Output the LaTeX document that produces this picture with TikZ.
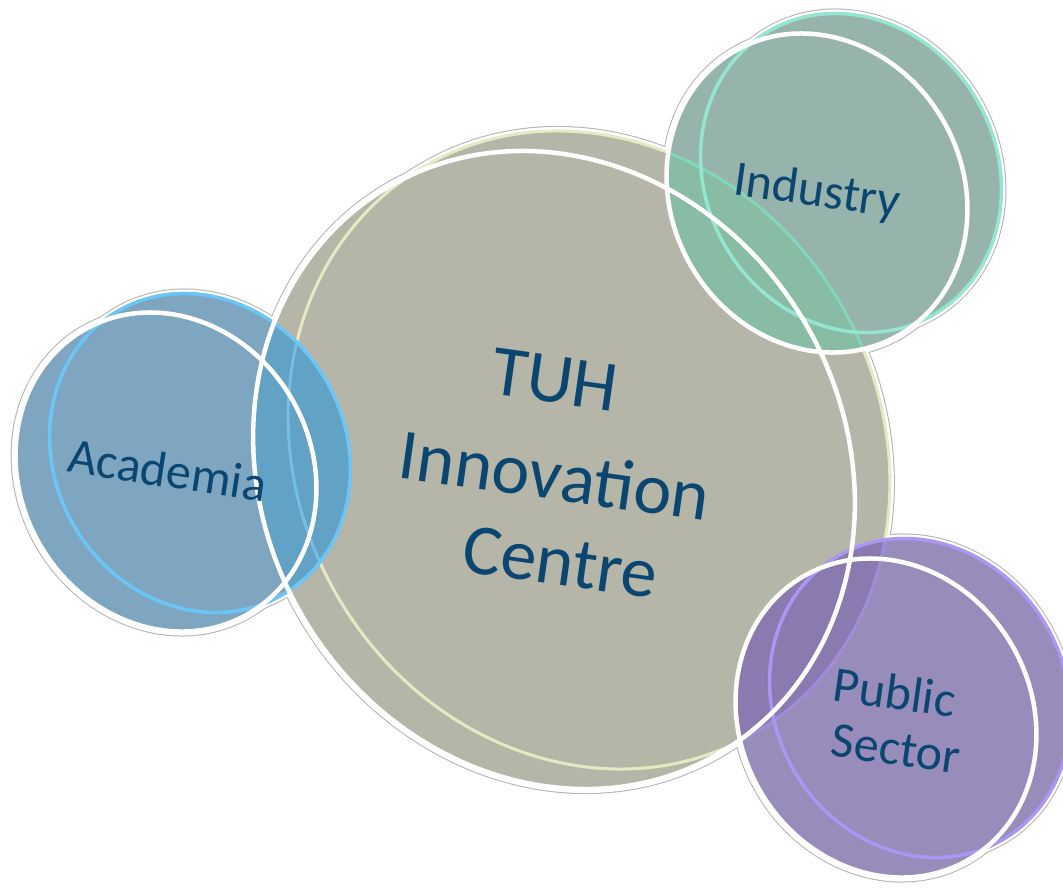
\documentclass[tikz,border=0pt]{standalone}
\usepackage{fontspec}
\setmainfont{Carlito}
\newcommand{\bigell}[1]{(#1) circle [x radius=328pt, y radius=291pt, rotate=-59.7]}
\newcommand{\smlell}[1]{(#1) circle [x radius=164pt, y radius=145.5pt, rotate=-59.7]}
\definecolor{cfill}{RGB}{182,182,168}
\definecolor{cline}{RGB}{230,234,196}
\definecolor{afill}{RGB}{126,166,192}
\definecolor{aover}{RGB}{98,162,196}
\definecolor{aline}{RGB}{108,198,245}
\definecolor{atint}{RGB}{118,190,228}
\definecolor{ifill}{RGB}{151,180,172}
\definecolor{iover}{RGB}{136,188,164}
\definecolor{iline}{RGB}{148,230,208}
\definecolor{itint}{RGB}{132,214,186}
\definecolor{pfill}{RGB}{152,140,186}
\definecolor{pover}{RGB}{138,122,176}
\definecolor{pline}{RGB}{172,150,242}
\definecolor{ptint}{RGB}{160,140,218}
\definecolor{glowgray}{RGB}{178,178,178}
\definecolor{txt}{RGB}{10,70,112}
\tikzset{
  glowedge/.style={draw=glowgray, line width=10pt},
  glowwhite/.style={draw=white, line width=8pt},
  whiteline/.style={draw=white, line width=4.5pt},
  colline/.style={line width=3.5pt},
  bigtext/.style={text=txt, font=\fontsize{72}{88}\selectfont, inner sep=0pt},
  smltext/.style={text=txt, font=\fontsize{50}{61}\selectfont, inner sep=0pt}
}
\begin{document}
\begin{tikzpicture}[x=1pt,y=-1pt]
\useasboundingbox (0,0) rectangle (1063,887);
\coordinate (cw) at (554,470);
\coordinate (cc) at (589,450);
\coordinate (aw) at (166,472);
\coordinate (ac) at (200,453);
\coordinate (iw) at (817,193);
\coordinate (ic) at (851,173);
\coordinate (pw) at (886,718);
\coordinate (pc) at (920,698);
% glow around the shapes
\foreach \e in {aw,ac,iw,ic,pw,pc} {\path[glowedge] \smlell{\e};}
\path[glowedge] \bigell{cw};
\path[glowedge] \bigell{cc};
\foreach \e in {aw,ac,iw,ic,pw,pc} {\path[glowwhite] \smlell{\e};}
\path[glowwhite] \bigell{cw};
\path[glowwhite] \bigell{cc};
% centre
\fill[cfill] \bigell{cw} \bigell{cc};
\draw[cline, line width=3pt] \bigell{cc};
% academia
\fill[afill] \smlell{aw} \smlell{ac};
\begin{scope}
  \clip \bigell{cw} \bigell{cc};
  \fill[aover] \smlell{aw} \smlell{ac};
\end{scope}
\begin{scope}
  \clip \smlell{aw} \smlell{ac};
  \draw[atint, line width=3pt] \bigell{cc};
\end{scope}
\draw[aline, colline] \smlell{ac};
% industry
\fill[ifill] \smlell{iw} \smlell{ic};
\begin{scope}
  \clip \bigell{cw} \bigell{cc};
  \fill[iover] \smlell{iw} \smlell{ic};
\end{scope}
\begin{scope}
  \clip \smlell{iw} \smlell{ic};
  \draw[itint, line width=3pt] \bigell{cc};
\end{scope}
\draw[iline, colline] \smlell{ic};
% public sector
\fill[pfill] \smlell{pw} \smlell{pc};
\begin{scope}
  \clip \bigell{cw} \bigell{cc};
  \fill[pover] \smlell{pw} \smlell{pc};
\end{scope}
\begin{scope}
  \clip \smlell{pw} \smlell{pc};
  \draw[ptint, line width=3pt] \bigell{cc};
\end{scope}
\draw[pline, colline] \smlell{pc};
% white outlines on top
\path[whiteline] \bigell{cw};
\path[whiteline] \smlell{aw};
\path[whiteline] \smlell{iw};
\path[whiteline] \smlell{pw};
% texts
\node[bigtext, rotate=-8] (tuh) at (555,380) {TUH};
\node[bigtext, rotate=-8] (innov) at (555,475) {Innovation};
\node[bigtext, rotate=-8] (centre) at (560,562) {Centre};
\node[smltext, anchor=base, rotate=-8.7] (acad) at (165,487) {Academia};
\node[smltext, anchor=base, rotate=-8] (ind) at (815,206) {Industry};
\node[smltext, rotate=-8] (public) at (895,692) {Public};
\node[smltext, rotate=-8] (sector) at (896,749) {Sector};
\end{tikzpicture}
\end{document}
